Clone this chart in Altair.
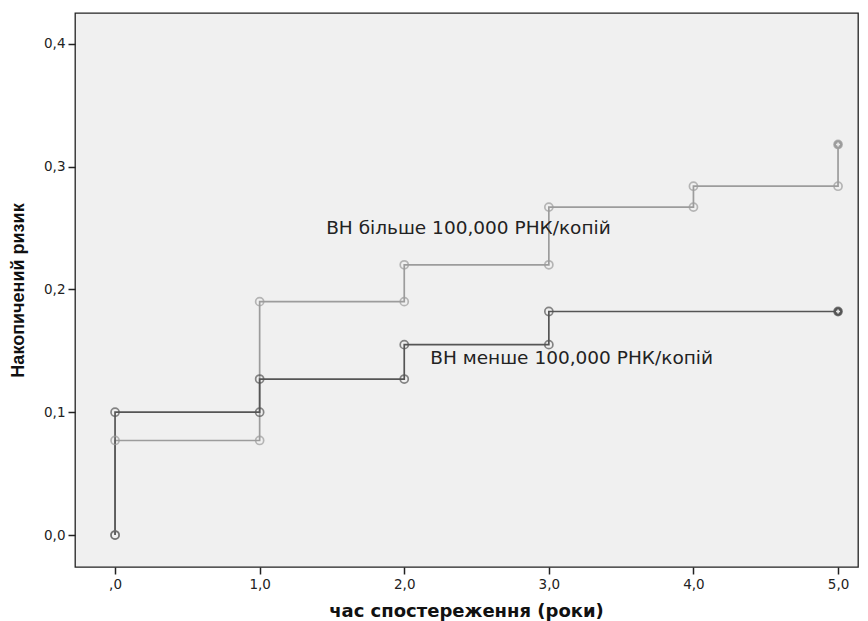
import altair as alt
import pandas as pd

# Upper series (light gray): ВН більше 100,000 РНК/копій
hi_time = [0, 0, 1, 1, 2, 2, 3, 3, 4, 4, 5, 5]
hi_risk = [0.0, 0.077, 0.077, 0.190, 0.190, 0.220, 0.220, 0.267, 0.267, 0.284, 0.284, 0.318]
# Lower series (dark gray): ВН менше 100,000 РНК/копій
lo_time = [0, 0, 1, 1, 2, 2, 3, 3, 5]
lo_risk = [0.0, 0.100, 0.100, 0.127, 0.127, 0.155, 0.155, 0.182, 0.182]

labels = ["ВН більше 100,000 РНК/копій", "ВН менше 100,000 РНК/копій"]
label_x = [1.46, 2.18]
label_y = [0.250, 0.144]

x_ticks = [0, 1, 2, 3, 4, 5]
y_ticks = [0.0, 0.1, 0.2, 0.3, 0.4]

rows = []
for i, (t, r) in enumerate(zip(hi_time, hi_risk)):
    rows.append({"series": "hi", "t": t, "risk": r, "order": i,
                 "end": i == len(hi_time) - 1})
for i, (t, r) in enumerate(zip(lo_time, lo_risk)):
    rows.append({"series": "lo", "t": t, "risk": r, "order": i,
                 "end": i == len(lo_time) - 1})
df = pd.DataFrame(rows)
lab_df = pd.DataFrame({"label": labels, "t": label_x, "risk": label_y})

FONT = "DejaVu Sans"
color_scale = alt.Scale(domain=["hi", "lo"], range=["#9c9c9c", "#555555"])

x = alt.X("t:Q", scale=alt.Scale(domain=[-0.277, 5.138], nice=False, zero=False),
          axis=alt.Axis(values=x_ticks, grid=False, domain=False, tickSize=7,
                        tickColor="#222", tickWidth=1.5,
                        labelExpr="datum.value == 0 ? ',0' : replace(format(datum.value, '.1f'), '.', ',')",
                        labelFont=FONT, labelFontSize=13.5, labelColor="#222", labelPadding=3,
                        title="час спостереження (роки)", titleFont=FONT, titleFontSize=18,
                        titleFontWeight="bold", titleColor="#111",
                        titleX=391, titleY=44, titleBaseline="middle", titleAlign="center"))
y = alt.Y("risk:Q", scale=alt.Scale(domain=[-0.026, 0.425], nice=False, zero=False),
          axis=alt.Axis(values=y_ticks, grid=False, domain=False, tickSize=7,
                        tickColor="#222", tickWidth=1.5,
                        labelExpr="replace(format(datum.value, '.1f'), '.', ',')",
                        labelFont=FONT, labelFontSize=13.5, labelColor="#222", labelPadding=3,
                        title="Накопичений ризик", titleFont="Liberation Sans", titleFontSize=18,
                        titleFontWeight="bold", titleColor="#111",
                        titleX=-57, titleY=277, titleAlign="center", titleBaseline="middle"))

base = alt.Chart(df)
lines = base.mark_line(strokeWidth=1.7).encode(
    x=x, y=y, detail="series:N", order="order:Q",
    color=alt.Color("series:N", scale=color_scale, legend=None))
pts = base.mark_point(shape="circle", size=65, strokeWidth=1.7, filled=False).encode(
    x="t:Q", y="risk:Q",
    color=alt.Color("series:N", scale=color_scale, legend=None))
ends = base.transform_filter("datum.end").mark_point(
    shape="circle", size=70, filled=True, opacity=1).encode(
    x="t:Q", y="risk:Q",
    color=alt.Color("series:N", scale=color_scale, legend=None))
crosses = base.transform_filter("datum.end").mark_point(
    shape="cross", size=16, filled=True, color="#e8e8e8", opacity=1).encode(
    x="t:Q", y="risk:Q")
texts = alt.Chart(lab_df).mark_text(align="left", baseline="middle", font=FONT,
                                    fontSize=18.5, color="#222").encode(
    x="t:Q", y="risk:Q", text="label:N")

chart = alt.layer(lines, pts, ends, crosses, texts).properties(
    width=783, height=554,
    autosize=alt.AutoSizeParams(type="none"),
    padding={"left": 67, "top": 5, "right": 2, "bottom": 56},
    background="white",
).configure_view(fill="#f0f0f0", stroke="#222", strokeWidth=1.3)

chart.save("out.html", embed_options={"renderer": "svg", "actions": False})
